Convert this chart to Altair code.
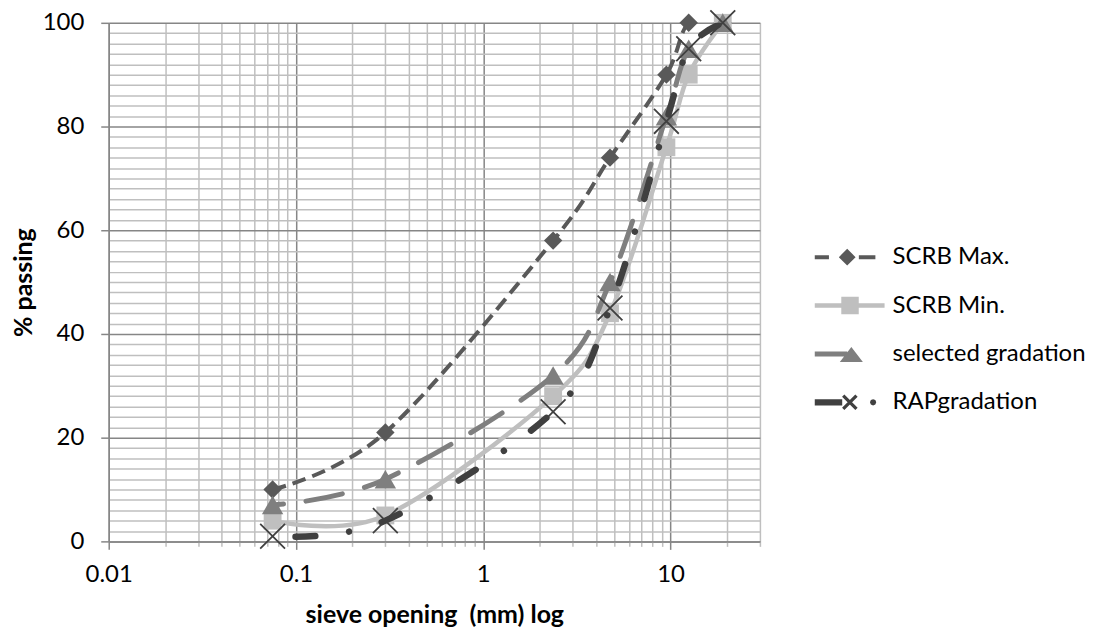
import math
import altair as alt
import pandas as pd

# ---------------- data ----------------
sieve_mm = [19, 12.5, 9.5, 4.75, 2.36, 0.3, 0.075]
series_names = ["SCRB Max.", "SCRB Min.", "selected gradation", "RAPgradation"]
scrb_max = [100, 100, 90, 74, 58, 21, 10]
scrb_min = [100, 90, 76, 44, 28, 5, 4]
selected_gradation = [100, 95, 82, 50, 32, 12, 7]
rap_gradation = [100, 95, 81, 45, 25, 4, 1]

x_grid_values = [0.01, 0.02, 0.03, 0.04, 0.05, 0.06, 0.07, 0.08, 0.09,
                 0.1, 0.2, 0.3, 0.4, 0.5, 0.6, 0.7, 0.8, 0.9,
                 1, 2, 3, 4, 5, 6, 7, 8, 9,
                 10, 20, 30]
x_label_values = [0.01, 0.1, 1, 10]
y_grid_values = list(range(0, 101, 2))
y_label_step = 20

rows = []
for name, vals in zip(series_names, [scrb_max, scrb_min, selected_gradation, rap_gradation]):
    for s, v in zip(sieve_mm, vals):
        rows.append({"sieve": s, "passing": v, "series": name})
df = pd.DataFrame(rows)

# ---------------- styles ----------------
FONT = "Lato"
styles = {
    "SCRB Max.": dict(color="#595959", width=4, dash=[14, 7], offset=0, cap="butt",
                      shape="diamond", size=340, filled=True),
    "SCRB Min.": dict(color="#bfbfbf", width=4.5, dash=None, offset=0, cap="round",
                      shape="square", size=320, filled=True),
    "selected gradation": dict(color="#7f7f7f", width=5, dash=[37, 23], offset=26, cap="round",
                               shape="triangle-up", size=460, filled=True),
    "RAPgradation": dict(color="#404040", width=6.5, dash=[20, 34, 0.01, 34], offset=65, cap="round",
                         shape="M-1,-1L1,1M-1,1L1,-1", size=620, filled=False),
}


# legend symbols (line + marker) as custom paths, unit = half symbol width
def rect(x0, x1, h):
    return f"M{x0:.3f},{-h:.3f}H{x1:.3f}V{h:.3f}H{x0:.3f}Z"


def poly(pts):
    return "M" + "L".join(f"{x:.3f},{y:.3f}" for x, y in pts) + "Z"


def diamond(cx, r):
    return poly([(cx, -r), (cx + r, 0), (cx, r), (cx - r, 0)])


def square(cx, r):
    return poly([(cx - r, -r), (cx + r, -r), (cx + r, r), (cx - r, r)])


def triangle(cx, hw, top, bot):
    return poly([(cx, top), (cx + hw, bot), (cx - hw, bot)])


def xmark(cx, r, t):
    d = t / math.sqrt(2)
    a = poly([(cx - r + d, -r - d), (cx + r + d, r - d), (cx + r - d, r + d), (cx - r - d, -r + d)])
    b = poly([(cx - r - d, r - d), (cx + r - d, -r - d), (cx + r + d, -r + d), (cx - r + d, r + d)])
    return a + b


def dot(cx, r):
    return poly([(cx + r * math.cos(k * math.pi / 4), r * math.sin(k * math.pi / 4)) for k in range(8)])


legend_paths = [
    rect(-1, -0.594, 0.057) + diamond(-0.071, 0.24) + rect(0.263, 0.737, 0.057),
    rect(-1, 1, 0.064) + square(0.01, 0.25),
    rect(-1, -0.07, 0.071) + triangle(0.048, 0.33, -0.2, 0.23),
    rect(-1, -0.214, 0.09) + xmark(0.005, 0.19, 0.046) + dot(0.671, 0.09),
]
legend_colors = [styles[n]["color"] for n in series_names]

# ---------------- axes ----------------
major_x = "indexof([" + ",".join(str(v) for v in x_label_values) + "], datum.value) >= 0"
major_y = f"datum.value % {y_label_step} == 0"
MAJOR = "#868686"
MINOR = "#bfbfbf"

xaxis = alt.Axis(
    values=x_grid_values,
    labelExpr=f"({major_x}) ? toString(datum.value) : ''",
    labelFont=FONT, labelFontSize=24, labelColor="#000000", labelPadding=13,
    labelOverlap=False, labelFlush=False,
    grid=True,
    gridColor={"condition": {"test": major_x, "value": MAJOR}, "value": MINOR},
    gridWidth=1.5,
    tickColor={"condition": {"test": major_x, "value": MAJOR}, "value": MINOR},
    tickSize={"condition": {"test": f"!({major_x})", "value": 5}, "value": 8},
    tickWidth=1.5,
    domainColor=MAJOR, domainWidth=1.5,
    titleFont=FONT, titleFontSize=25, titleFontWeight="bold", titleColor="#000000",
    titleX=326.5, titleY=73, titleBaseline="middle",
)

yaxis = alt.Axis(
    values=y_grid_values,
    labelExpr=f"({major_y}) ? toString(datum.value) : ''",
    labelFont=FONT, labelFontSize=24, labelColor="#000000", labelPadding=17,
    labelOverlap=False,
    grid=True,
    gridColor={"condition": {"test": major_y, "value": MAJOR}, "value": MINOR},
    gridWidth=1.5,
    tickColor=MAJOR,
    tickOpacity={"condition": {"test": major_y, "value": 1}, "value": 0},
    tickSize=8, tickWidth=1.5,
    domainColor=MAJOR, domainWidth=1.5,
    titleFont=FONT, titleFontSize=25, titleFontWeight="bold", titleColor="#000000",
    titleX=-85, titleY=260, titleBaseline="middle", titleAngle=270,
)

base = alt.Chart(df).encode(
    x=alt.X("sieve:Q", scale=alt.Scale(type="log", domain=[0.01, 30], nice=False),
            axis=xaxis, title="sieve opening\u00a0 (mm) log"),
    y=alt.Y("passing:Q", scale=alt.Scale(domain=[0, 100], nice=False, zero=True),
            axis=yaxis, title="% passing"),
)

layers = []
for name in series_names:
    st = styles[name]
    sub = base.transform_filter(alt.datum.series == name)
    line_kw = dict(interpolate="cardinal", color=st["color"], strokeWidth=st["width"],
                   strokeCap=st["cap"], strokeJoin="round", clip=True)
    if st["dash"]:
        line_kw["strokeDash"] = st["dash"]
        line_kw["strokeDashOffset"] = st["offset"]
    layers.append(sub.mark_line(**line_kw))
    pt_kw = dict(shape=st["shape"], size=st["size"], filled=st["filled"],
                 color=st["color"], opacity=1)
    if not st["filled"]:
        pt_kw["strokeWidth"] = 1.8
    layers.append(sub.mark_point(**pt_kw))

legend = alt.Legend(
    title=None, orient="none", legendX=708, legendY=200,
    symbolSize=4900, symbolStrokeWidth=0, symbolOpacity=1,
    labelFont=FONT, labelFontSize=24, labelColor="#000000",
    labelOffset=8, labelLimit=400, rowPadding=1.5, padding=0,
)

legend_layer = base.transform_filter("false").mark_point(filled=True, opacity=1).encode(
    color=alt.Color("series:N", scale=alt.Scale(domain=series_names, range=legend_colors),
                    legend=legend),
    shape=alt.Shape("series:N", scale=alt.Scale(domain=series_names, range=legend_paths),
                    legend=legend),
)

chart = alt.layer(*layers, legend_layer).properties(
    width=653, height=520,
    padding={"left": 101, "top": 14, "right": 334, "bottom": 86},
    autosize=alt.AutoSizeParams(type="none"),
    background="white",
).configure_view(stroke=None)

chart.save("out.html", embed_options={"renderer": "svg", "actions": False})
